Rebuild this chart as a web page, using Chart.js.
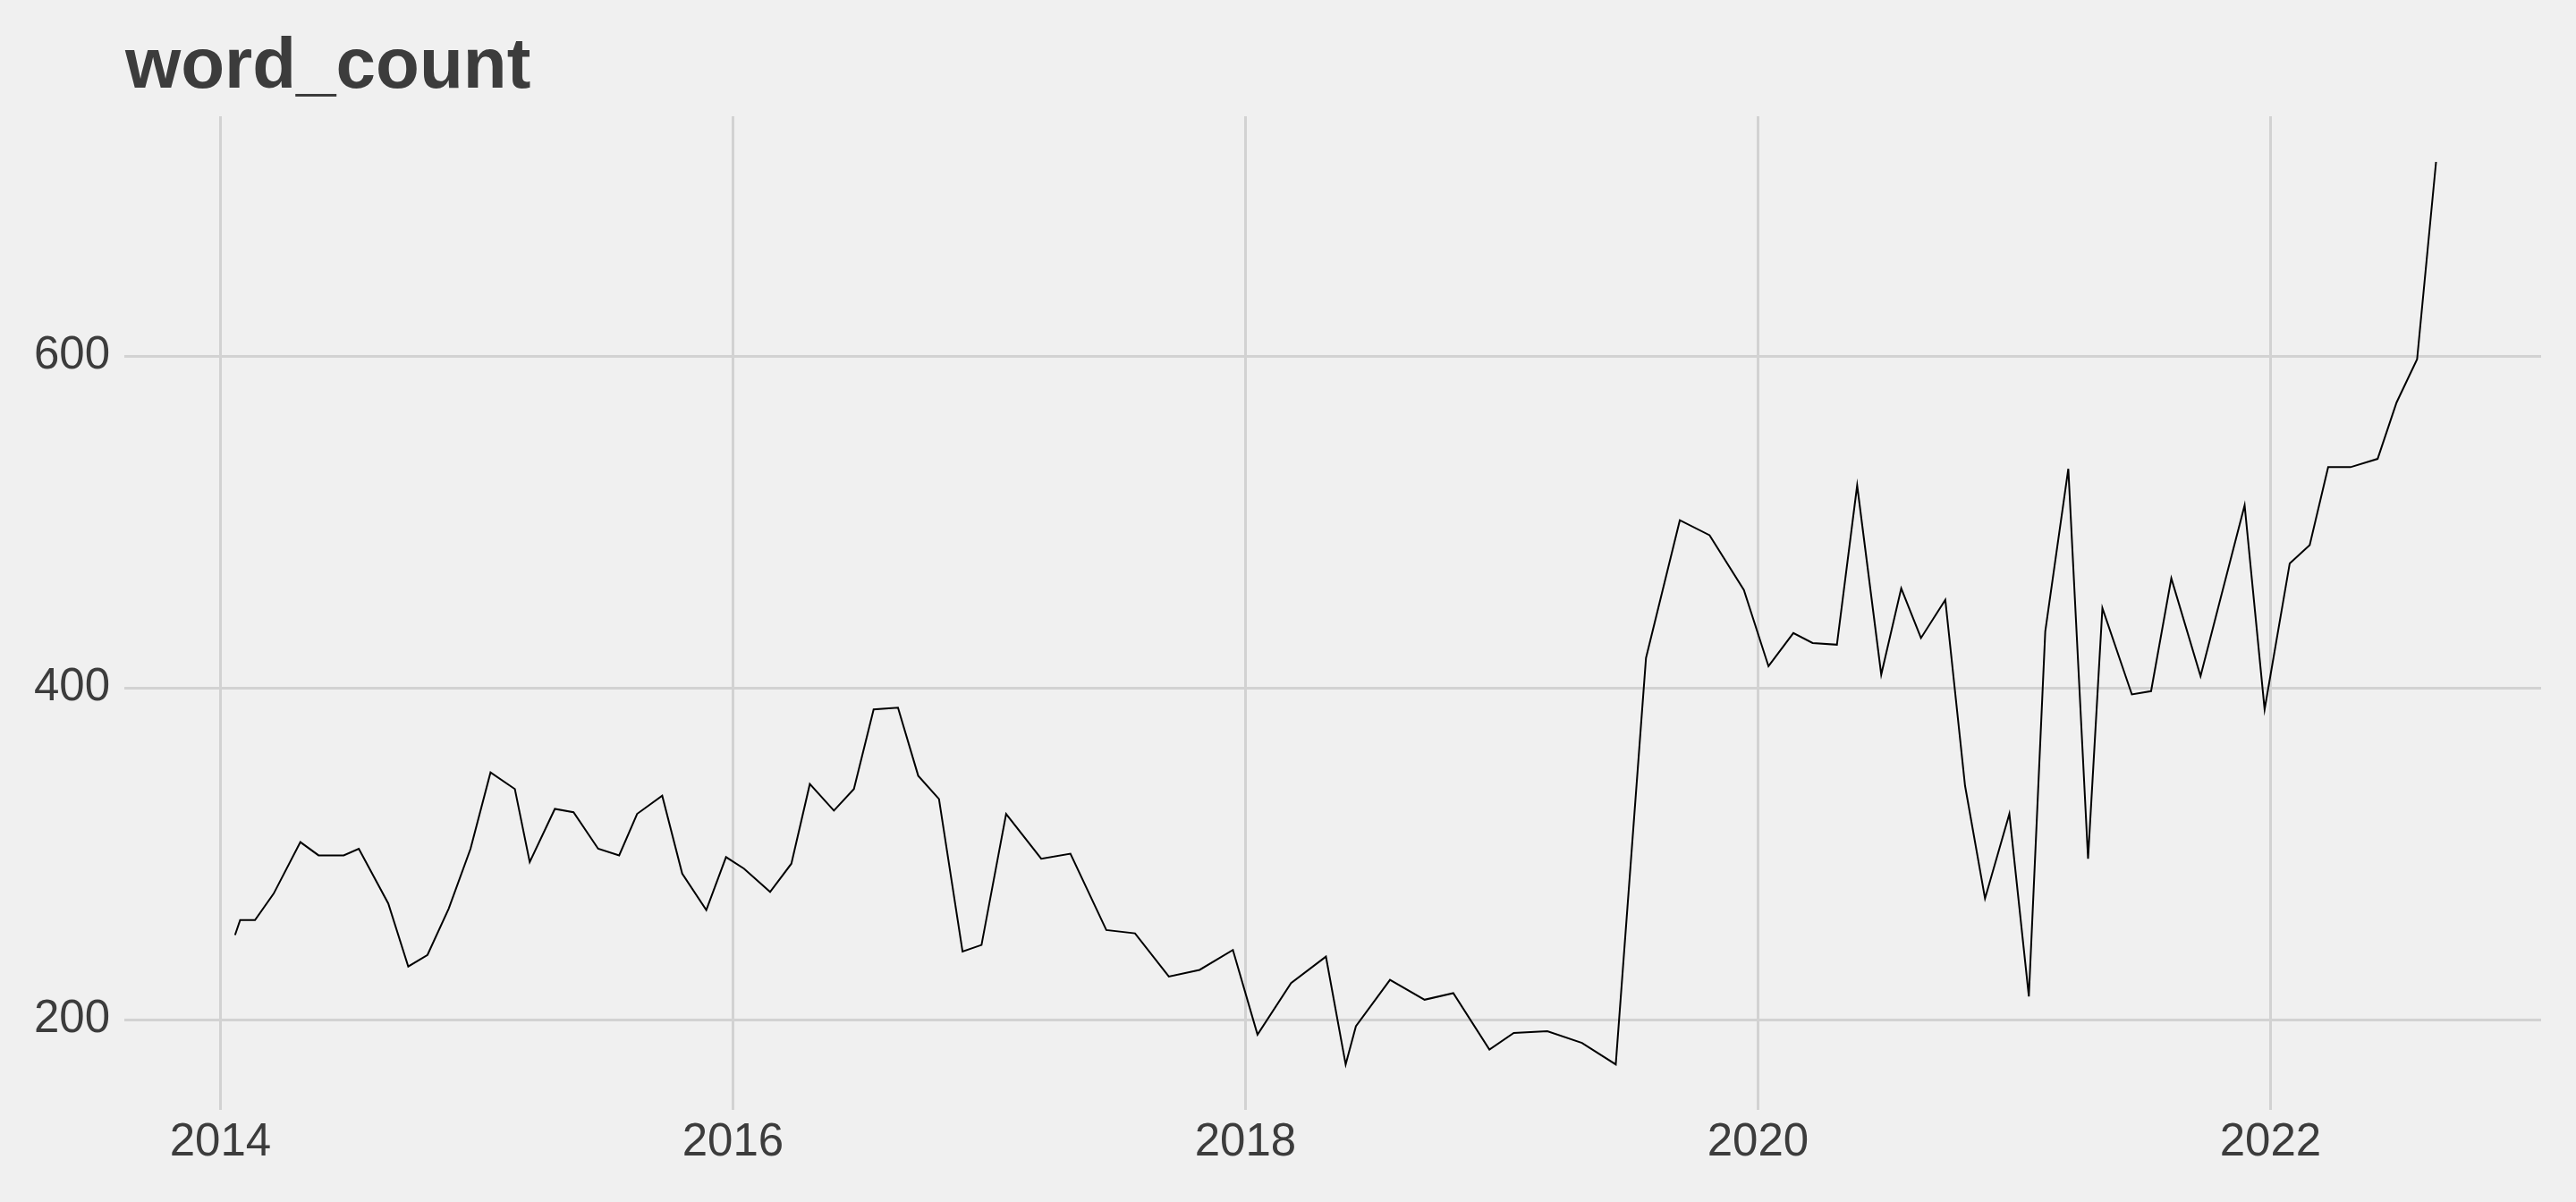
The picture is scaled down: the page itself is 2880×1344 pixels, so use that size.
<!DOCTYPE html>
<html>
<head>
<meta charset="utf-8">
<title>word_count</title>
<script src="https://cdn.jsdelivr.net/npm/chart.js@4/dist/chart.umd.min.js"></script>
<style>
  html, body { margin: 0; padding: 0; background: #F0F0F0; }
  canvas { display: block; }
</style>
</head>
<body>
<canvas id="myChart" width="2880" height="1344"></canvas>
<script>
// Data (x = decimal year, y = mean word count)
const chartTitle = 'word_count';

const postDates = [
  2014.057, 2014.077, 2014.135, 2014.208, 2014.312, 2014.383, 2014.481, 2014.540, 2014.655, 2014.733, 2014.808, 2014.891, 2014.976,
  2015.054, 2015.149, 2015.207, 2015.305, 2015.378, 2015.474, 2015.556, 2015.626, 2015.724, 2015.802, 2015.896, 2015.973,
  2016.043, 2016.145, 2016.228, 2016.300, 2016.394, 2016.472, 2016.549, 2016.644, 2016.723, 2016.804, 2016.896, 2016.970,
  2017.066, 2017.203, 2017.317, 2017.457, 2017.569, 2017.701, 2017.821, 2017.951,
  2018.047, 2018.178, 2018.314, 2018.391, 2018.431, 2018.564, 2018.699, 2018.811, 2018.952,
  2019.047, 2019.178, 2019.313, 2019.445, 2019.563, 2019.695, 2019.811, 2019.945,
  2020.041, 2020.138, 2020.213, 2020.308, 2020.387, 2020.481, 2020.559, 2020.636, 2020.731, 2020.808, 2020.886, 2020.981,
  2021.057, 2021.121, 2021.211, 2021.288, 2021.344, 2021.459, 2021.534, 2021.613, 2021.727, 2021.802, 2021.899, 2021.977,
  2022.075, 2022.153, 2022.225, 2022.312, 2022.418, 2022.492, 2022.572, 2022.646
];

const wordCounts = [
  251, 260, 260, 276, 307, 299, 299, 303, 270, 232, 239, 267, 303,
  349, 339, 295, 327, 325, 303, 299, 324, 335, 288, 266, 298,
  291, 277, 294, 342, 326, 339, 387, 388, 347, 333, 241, 245,
  324, 297, 300, 254, 252, 226, 230, 242,
  191, 222, 238, 173, 196, 224, 212, 216, 182,
  192, 193, 186, 173, 418, 501, 492, 459,
  413, 433, 427, 426, 522, 408, 460, 430, 453, 341, 273, 324,
  214, 434, 532, 297, 448, 396, 398, 466, 407, 452, 510, 387,
  475, 486, 533, 533, 538, 572, 598, 717
];

const xTicks = [2014, 2016, 2018, 2020, 2022];
const yTicks = [200, 400, 600];

const textColor = '#3C3C3C';
const gridColor = '#D2D2D2';

// Title drawn flush with the left edge of the plot panel (ggplot style)
const titlePlugin = {
  id: 'plotTitle',
  afterDraw(chart) {
    const ctx = chart.ctx;
    ctx.save();
    ctx.font = 'bold 80px "Liberation Sans", Arial, sans-serif';
    ctx.fillStyle = textColor;
    ctx.textBaseline = 'alphabetic';
    ctx.fillText(chartTitle, chart.chartArea.left + 1, 98);
    ctx.restore();
  }
};

const points = postDates.map((d, i) => ({ x: d, y: wordCounts[i] }));

const ctx = document.getElementById('myChart').getContext('2d');

const myChart = new Chart(ctx, {
  type: 'line',
  data: {
    datasets: [{
      label: chartTitle,
      data: points,
      borderColor: '#000000',
      borderWidth: 2,
      pointRadius: 0,
      tension: 0,
      fill: false
    }]
  },
  options: {
    responsive: false,
    animation: false,
    devicePixelRatio: 1,
    layout: { padding: { top: 130, right: 39, bottom: 0, left: 0 } },
    plugins: {
      legend: { display: false },
      tooltip: { enabled: false },
      title: { display: false }
    },
    scales: {
      x: {
        type: 'linear',
        min: 2013.625,
        max: 2023.056,
        afterBuildTicks: (scale) => { scale.ticks = xTicks.map(v => ({ value: v })); },
        afterFit: (scale) => { scale.height = 103; },
        grid: { color: gridColor, lineWidth: 3, drawTicks: false },
        border: { display: false },
        ticks: {
          color: textColor,
          padding: 6,
          maxRotation: 0,
          font: { family: '"Liberation Sans", Arial, sans-serif', size: 51 },
          callback: (v) => String(v)
        }
      },
      y: {
        type: 'linear',
        min: 145.6,
        max: 744.5,
        afterBuildTicks: (scale) => { scale.ticks = yTicks.map(v => ({ value: v })); },
        afterFit: (scale) => { scale.width = 139; },
        grid: { color: gridColor, lineWidth: 3, drawTicks: false },
        border: { display: false },
        ticks: {
          color: textColor,
          padding: 16,
          font: { family: '"Liberation Sans", Arial, sans-serif', size: 51 },
          callback: (v) => String(v)
        }
      }
    }
  },
  plugins: [titlePlugin]
});
</script>
</body>
</html>
